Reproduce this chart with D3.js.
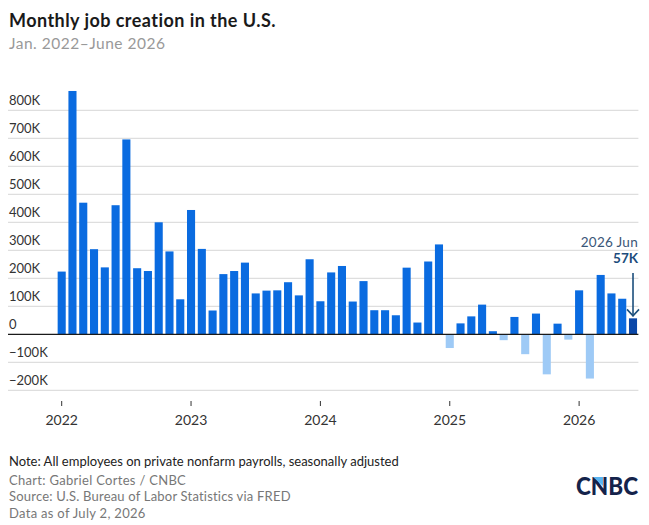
<!DOCTYPE html>
<html>
<head>
<meta charset="utf-8">
<script src="https://cdn.jsdelivr.net/npm/d3@7"></script>
<style>
  html, body { margin: 0; padding: 0; background: #fff; }
  svg { display: block; font-family: Lato, "Open Sans", sans-serif; }
</style>
</head>
<body>
<div id="chart"></div>
<script>
// monthly change in private nonfarm payrolls, Jan 2022 .. Jun 2026 (thousands)
const values2022 = [224, 869, 470, 304, 239, 461, 696, 236, 226, 400, 296, 125];
const values2023 = [444, 305, 85, 215, 226, 256, 146, 156, 157, 186, 139, 268];
const values2024 = [118, 221, 244, 117, 190, 86, 86, 68, 238, 42, 260, 321];
const values2025 = [-49, 39, 64, 106, 11, -21, 62, -71, 74, -143, 38, -19];
const values2026 = [157, -158, 212, 146, 127, 57];
const values = [...values2022, ...values2023, ...values2024, ...values2025, ...values2026];

const yearLabels = ['2022', '2023', '2024', '2025', '2026'];
const yTicks = [-200, -100, 0, 100, 200, 300, 400, 500, 600, 700, 800];

const width = 649;
const height = 525;

const svg = d3.select('#chart')
    .append('svg')
    .attr('width', width)
    .attr('height', height);

const x = d3.scaleBand()
    .domain(d3.range(values.length))
    .range([56.3, 638.4])
    .paddingInner(0.25)
    .paddingOuter(0.125);

const y = d3.scaleLinear()
    .domain([-200, 800])
    .range([390.3, 110.3]);

const gridLeft = 8;
const gridRight = 638.4;

// titles
svg.append('text')
    .attr('x', 9)
    .attr('y', 26.5)
    .attr('fill', '#1a1a1a')
    .attr('font-size', 18)
    .attr('font-weight', 700)
    .attr('letter-spacing', 0.45)
    .text('Monthly job creation in the U.S.');

svg.append('text')
    .attr('x', 9)
    .attr('y', 49.3)
    .attr('fill', '#999')
    .attr('font-size', 15.5)
    .attr('letter-spacing', 0.5)
    .text('Jan. 2022\u2013June 2026');

// grid + y labels
const grid = svg.append('g');
grid.selectAll('line')
    .data(yTicks.filter((d) => d !== 0))
    .join('line')
    .attr('x1', gridLeft)
    .attr('x2', gridRight)
    .attr('y1', (d) => y(d))
    .attr('y2', (d) => y(d))
    .attr('stroke', '#d6d6d6')
    .attr('stroke-width', 1);

grid.selectAll('text')
    .data(yTicks)
    .join('text')
    .attr('x', 9)
    .attr('y', (d) => y(d) - 5)
    .attr('fill', '#333')
    .attr('font-size', 13)
    .text((d) => d === 0 ? '0' : (d < 0 ? '\u2212' + (-d) + 'K' : d + 'K'));

// bars
const last = values.length - 1;
svg.append('g')
    .selectAll('rect')
    .data(values)
    .join('rect')
    .attr('x', (d, i) => x(i))
    .attr('width', x.bandwidth())
    .attr('y', (d) => y(Math.max(0, d)))
    .attr('height', (d) => Math.abs(y(d) - y(0)))
    .attr('fill', (d, i) => i === last ? '#0a47a8' : (d < 0 ? '#9ecaf6' : '#0a6be0'));

// zero line
svg.append('line')
    .attr('x1', gridLeft)
    .attr('x2', gridRight)
    .attr('y1', y(0))
    .attr('y2', y(0))
    .attr('stroke', '#1a1a1a')
    .attr('stroke-width', 1.3);

// x axis
const xAxis = d3.axisBottom(x)
    .tickValues(yearLabels.map((d, i) => i * 12))
    .tickFormat((d) => yearLabels[d / 12])
    .tickSize(5)
    .tickPadding(9);

const gx = svg.append('g')
    .attr('transform', 'translate(0,401)')
    .call(xAxis);
gx.select('.domain').remove();
gx.selectAll('.tick line').attr('stroke', '#333');
gx.selectAll('.tick text')
    .attr('fill', '#333')
    .attr('font-size', 14)
    .attr('font-family', 'Lato, "Open Sans", sans-serif');

// annotation for the latest month
const ax = x(last) + x.bandwidth() / 2;
svg.append('text')
    .attr('x', 638)
    .attr('y', 246.5)
    .attr('text-anchor', 'end')
    .attr('fill', '#3a5677')
    .attr('font-size', 13.5)
    .attr('letter-spacing', 0.3)
    .text('2026 Jun');

svg.append('text')
    .attr('x', 638)
    .attr('y', 262.5)
    .attr('text-anchor', 'end')
    .attr('fill', '#1c4c7c')
    .attr('font-size', 13.5)
    .attr('font-weight', 700)
    .text(values[last] + 'K');

svg.append('line')
    .attr('x1', ax)
    .attr('x2', ax)
    .attr('y1', 273)
    .attr('y2', y(values[last]) - 2)
    .attr('stroke', '#1c4f7c')
    .attr('stroke-width', 1.6);

svg.append('path')
    .attr('d', `M${ax - 6},${y(values[last]) - 9} L${ax},${y(values[last]) - 2.5} L${ax + 6},${y(values[last]) - 9}`)
    .attr('fill', 'none')
    .attr('stroke', '#1c4f7c')
    .attr('stroke-width', 1.6);

// footer
const footer = [
  {text: 'Note: All employees on private nonfarm payrolls, seasonally adjusted', color: '#222', y: 466, ls: 0},
  {text: 'Chart: Gabriel Cortes / CNBC', color: '#777', y: 484.5, ls: 0.3},
  {text: 'Source: U.S. Bureau of Labor Statistics via FRED', color: '#777', y: 501, ls: 0.2},
  {text: 'Data as of July 2, 2026', color: '#777', y: 517.5, ls: 0.3}
];
svg.append('g')
    .selectAll('text')
    .data(footer)
    .join('text')
    .attr('x', 9)
    .attr('y', (d) => d.y)
    .attr('fill', (d) => d.color)
    .attr('font-size', 13)
    .attr('letter-spacing', (d) => d.ls)
    .text((d) => d.text);

// logo
const logo = svg.append('g');
logo.append('text')
    .attr('x', 576)
    .attr('y', 495)
    .attr('fill', '#14234b')
    .attr('font-size', 25)
    .attr('font-weight', 900)
    .attr('textLength', 62)
    .attr('lengthAdjust', 'spacingAndGlyphs')
    .text('CNBC');
logo.append('path')
    .attr('d', 'M593,477 L603,477 L603,486 Z')
    .attr('fill', '#5ab4f0');
</script>
</body>
</html>
